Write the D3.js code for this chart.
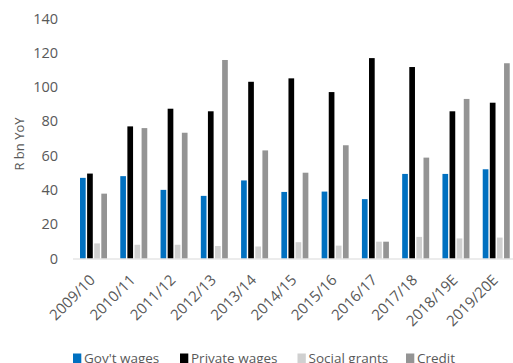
<!DOCTYPE html>
<html><head><meta charset="utf-8">
<script src="https://cdn.jsdelivr.net/npm/d3@7"></script>
<style>body{margin:0;background:#fff;overflow:hidden}text{font-family:"Open Sans",sans-serif;fill:#595959}</style>
</head><body>
<svg id="c" width="513" height="363"></svg>
<script>
const categories = ["2009/10","2010/11","2011/12","2012/13","2013/14","2014/15","2015/16","2016/17","2017/18","2018/19E","2019/20E"];
const series = ["Gov't wages","Private wages","Social grants","Credit"];
const govWages = [47,48,40,36.5,45.5,38.8,39,34.6,49.3,49.3,52];
const privateWages = [49.5,77,87.3,85.8,103,105,97,116.8,111.6,85.8,90.8];
const socialGrants = [8.8,8,8,7.3,7,9.5,7.5,9.8,12.6,11.7,12.2];
const credit = [37.8,76,73.3,115.7,63,50,66,9.8,58.8,93,113.8];
const yTicks = [0,20,40,60,80,100,120,140];
const colors = ["#0070C0","#000000","#D0D0D0","#949494"];
const values = [govWages, privateWages, socialGrants, credit];

const svg = d3.select("#c");
const x0 = d3.scaleBand().domain(categories).range([73, 516]);
const x1 = d3.scaleBand().domain(series).range([7, 34]).paddingInner(0.2);
const y = d3.scaleLinear().domain([0,140]).range([258.5, 18.3]);

// y tick labels
svg.append("g").selectAll("text").data(yTicks).join("text")
  .attr("x", 58).attr("y", d => y(d)).attr("dy","0.36em")
  .attr("text-anchor","end").style("font-size","14.5px").text(d => d);

svg.append("text").attr("transform","translate(24,144) rotate(-90)")
  .attr("text-anchor","middle").style("font-size","13px").text("R bn YoY");

// bars
const g = svg.append("g");
series.forEach((s, si) => {
  g.append("g").selectAll("rect").data(categories).join("rect")
    .attr("x", c => x0(c) + x1(s))
    .attr("width", x1.bandwidth())
    .attr("y", (c, i) => y(values[si][i]))
    .attr("height", (c, i) => y(0) - y(values[si][i]))
    .attr("fill", colors[si]);
});

// x axis line
svg.append("line").attr("x1",73).attr("x2",516).attr("y1",y(0)+0.5).attr("y2",y(0)+0.5)
  .attr("stroke","#D9D9D9").attr("stroke-width",1);

// x labels
svg.append("g").selectAll("text").data(categories).join("text")
  .attr("transform", c => `translate(${x0(c)+x0.bandwidth()/2+3},281) rotate(-45)`)
  .attr("text-anchor","end").style("font-size","15px").text(c => c);

// legend
const legX = [73,180,297.5,406];
const leg = svg.append("g");
series.forEach((s, i) => {
  leg.append("rect").attr("x", legX[i]).attr("y", 353.5).attr("width", 8.3).attr("height", 9.5).attr("fill", colors[i]);
  leg.append("text").attr("x", legX[i]+11).attr("y", 363).style("font-size","13.5px").text(s);
});
</script>
</body></html>
